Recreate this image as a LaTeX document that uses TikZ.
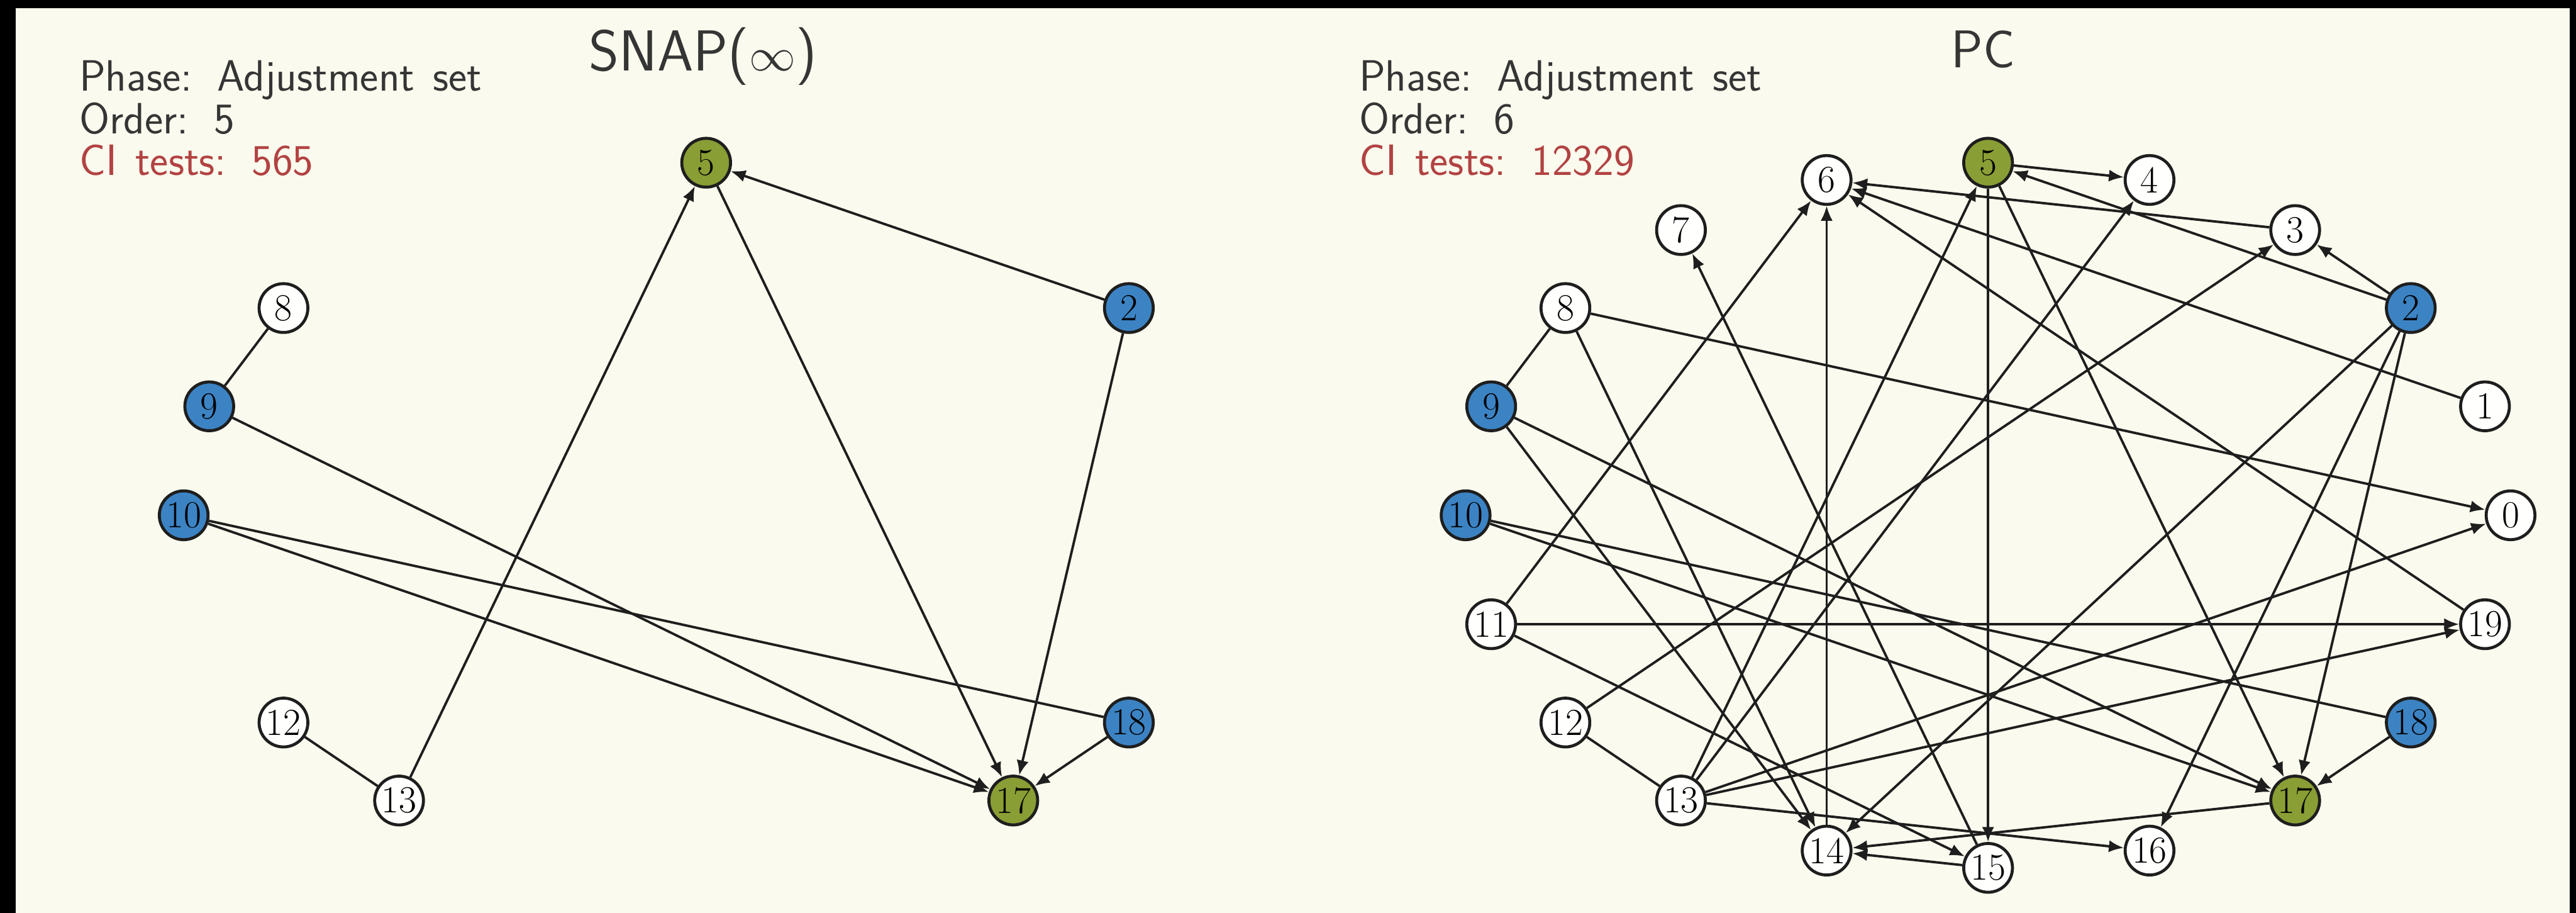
\documentclass[tikz,border=0pt]{standalone}
\usepackage{amssymb}
\usepackage{amsmath}
\usepackage{tikz}
\usetikzlibrary{arrows.meta}

\definecolor{paper}{RGB}{250,250,238}
\definecolor{snapgreen}{RGB}{137,158,52}
\definecolor{snapblue}{RGB}{60,131,196}
\definecolor{citext}{RGB}{178,66,66}
\definecolor{ink}{RGB}{30,30,30}

% wider word gaps for the side notes
\newcommand{\notefont}{\sffamily\fontsize{23.5}{27}\selectfont
  \spaceskip 0.42em\relax \xspaceskip 0.58em\relax}

\tikzset{
  vert/.style={draw=ink, circle, line width=1.6pt, minimum size=0.92cm,
    inner sep=0pt, fill=white!97!paper, font=\fontsize{20.5}{24}\selectfont},
  treat/.style={vert, fill=snapgreen},
  adj/.style={vert, fill=snapblue},
  arr/.style={draw=ink, line width=1.3pt, -{Latex[length=8pt,width=6.5pt]}},
  lnk/.style={draw=ink, line width=1.3pt},
  infotext/.style={anchor=base west, inner sep=0pt, text=ink!90,
    font=\notefont},
  heading/.style={anchor=base, inner sep=0pt, text=ink!90,
    font=\sffamily\fontsize{28.5}{34}\selectfont}
}

\begin{document}
\begin{tikzpicture}
      \useasboundingbox (0,0) rectangle (48.59,17.21);%
      \fill [paper] (0,0) rectangle (48.59,17.21);%
      % frame
      \fill [black] (0,0) rectangle (0.3,17.21);%
      \fill [black] (0,17.06) rectangle (48.59,17.21);%
      \fill [black] (48.47,0) rectangle (48.59,17.21);%

      % snap
      \node [heading, font=\sffamily\fontsize{31}{36}\selectfont] (Tsnap)
      at (13.26,15.88) {SNAP($\infty$)};%
      \node [infotext] (Lphase) at (1.49,15.49) {Phase: Adjustment set};%
      \node [infotext] (Lorder) at (1.49,14.69) {Order: 5};%
      \node [infotext, text=citext] (Ltests) at (1.49,13.91) {CI tests: 565};%

      \begin{scope}[shift={(13.32,7.495)}]
      \node [treat] (L5) at (90:9.855 and 6.647) {5};%
      \node [adj] (L2) at (36:9.855 and 6.647) {2};%
      \node [vert] (L8) at (144:9.855 and 6.647) {8};%
      \node [adj] (L9) at (162:9.855 and 6.647) {9};%
      \node [adj] (L10) at (180:9.855 and 6.647) {10};%
      \node [vert] (L12) at (216:9.855 and 6.647) {12};%
      \node [vert] (L13) at (234:9.855 and 6.647) {13};%
      \node [treat] (L17) at (306:9.855 and 6.647) {17};%
      \node [adj] (L18) at (324:9.855 and 6.647) {18};%
      \end{scope}

      % snap arrows
      \draw [lnk] (L8) -- (L9);%
      \draw [lnk] (L12) -- (L13);%
      \draw [lnk] (L10) -- (L18);%
      \draw [arr] (L9) -- (L17);%
      \draw [arr] (L10) -- (L17);%
      \draw [arr] (L13) -- (L5);%
      \draw [arr] (L5) -- (L17);%
      \draw [arr] (L2) -- (L5);%
      \draw [arr] (L2) -- (L17);%
      \draw [arr] (L18) -- (L17);%

      % pc
      \node [heading] (Tpc) at (37.41,15.93) {PC};%
      \node [infotext] (Rphase) at (25.63,15.49) {Phase: Adjustment set};%
      \node [infotext] (Rorder) at (25.63,14.69) {Order: 6};%
      \node [infotext, text=citext] (Rtests) at (25.63,13.91) {CI tests: 12329};%

      \begin{scope}[shift={(37.50,7.495)}]
      \node [vert] (R0) at (0:9.855 and 6.647) {0};%
      \node [vert] (R1) at (18:9.855 and 6.647) {1};%
      \node [adj] (R2) at (36:9.855 and 6.647) {2};%
      \node [vert] (R3) at (54:9.855 and 6.647) {3};%
      \node [vert] (R4) at (72:9.855 and 6.647) {4};%
      \node [treat] (R5) at (90:9.855 and 6.647) {5};%
      \node [vert] (R6) at (108:9.855 and 6.647) {6};%
      \node [vert] (R7) at (126:9.855 and 6.647) {7};%
      \node [vert] (R8) at (144:9.855 and 6.647) {8};%
      \node [adj] (R9) at (162:9.855 and 6.647) {9};%
      \node [adj] (R10) at (180:9.855 and 6.647) {10};%
      \node [vert] (R11) at (198:9.855 and 6.647) {11};%
      \node [vert] (R12) at (216:9.855 and 6.647) {12};%
      \node [vert] (R13) at (234:9.855 and 6.647) {13};%
      \node [vert] (R14) at (252:9.855 and 6.647) {14};%
      \node [vert] (R15) at (270:9.855 and 6.647) {15};%
      \node [vert] (R16) at (288:9.855 and 6.647) {16};%
      \node [treat] (R17) at (306:9.855 and 6.647) {17};%
      \node [adj] (R18) at (324:9.855 and 6.647) {18};%
      \node [vert] (R19) at (342:9.855 and 6.647) {19};%
      \end{scope}

      % pc arrows
      \draw [lnk] (R8) -- (R9);%
      \draw [lnk] (R12) -- (R13);%
      \draw [lnk] (R10) -- (R18);%
      \draw [arr] (R1) -- (R6);%
      \draw [arr] (R2) -- (R3);%
      \draw [arr] (R2) -- (R5);%
      \draw [arr] (R2) -- (R14);%
      \draw [arr] (R2) -- (R16);%
      \draw [arr] (R2) -- (R17);%
      \draw [arr] (R3) -- (R6);%
      \draw [arr] (R5) -- (R4);%
      \draw [arr] (R5) -- (R15);%
      \draw [arr] (R5) -- (R17);%
      \draw [arr] (R8) -- (R0);%
      \draw [arr] (R8) -- (R14);%
      \draw [arr] (R9) -- (R14);%
      \draw [arr] (R9) -- (R17);%
      \draw [arr] (R10) -- (R17);%
      \draw [arr] (R11) -- (R6);%
      \draw [arr] (R11) -- (R15);%
      \draw [arr] (R11) -- (R19);%
      \draw [arr] (R12) -- (R3);%
      \draw [arr] (R13) -- (R0);%
      \draw [arr] (R13) -- (R4);%
      \draw [arr] (R13) -- (R5);%
      \draw [arr] (R13) -- (R16);%
      \draw [arr] (R13) -- (R19);%
      \draw [arr] (R14) -- (R6);%
      \draw [arr] (R15) -- (R7);%
      \draw [arr] (R15) -- (R14);%
      \draw [arr] (R17) -- (R14);%
      \draw [arr] (R18) -- (R17);%
      \draw [arr] (R19) -- (R6);%
\end{tikzpicture}
\end{document}
